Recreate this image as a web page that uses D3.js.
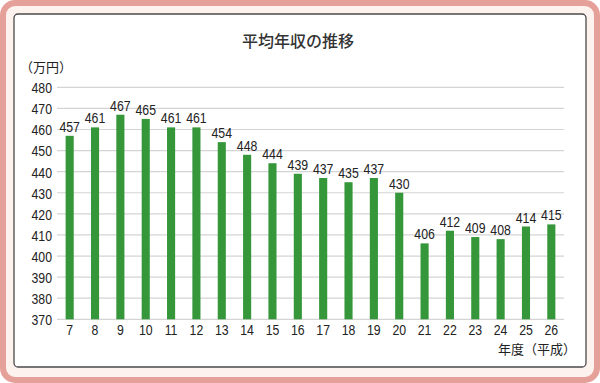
<!DOCTYPE html>
<html>
<head>
<meta charset="utf-8">
<script src="https://cdn.jsdelivr.net/npm/d3@7"></script>
<style>
  body { margin: 0; background: #fff; }
  text { font-family: "Liberation Sans", Arial, sans-serif; fill: #222; }
  .jp { font-family: "Noto Sans CJK JP", sans-serif; }
</style>
</head>
<body>
<script>
// data
var years = ["7","8","9","10","11","12","13","14","15","16","17","18","19","20","21","22","23","24","25","26"];
var incomes = [457,461,467,465,461,461,454,448,444,439,437,435,437,430,406,412,409,408,414,415];
var yTicks = [370,380,390,400,410,420,430,440,450,460,470,480];

var narrow = "scale(0.82,1)"; // les chiffres sont étroits dans l'original

var svg = d3.select("body").append("svg").attr("width", 600).attr("height", 383);

// cadre
svg.append("rect")
  .attr("x", 3).attr("y", 3).attr("width", 594).attr("height", 377)
  .attr("rx", 12)
  .style("fill", "#fdf2ee")
  .attr("stroke", "#e6a09a")
  .attr("stroke-width", 6);

svg.append("rect")
  .attr("x", 14).attr("y", 14).attr("width", 572).attr("height", 353)
  .attr("rx", 4)
  .style("fill", "#fff")
  .attr("stroke", "#4a4a4a")
  .attr("stroke-width", 1.3);

// échelles
var x = d3.scaleBand().domain(years).range([57, 564]).paddingInner(0.68).paddingOuter(0.34);
var y = d3.scaleLinear().domain([370, 480]).range([319.3, 87.3]);

// grille
svg.append("g").selectAll("line").data(yTicks).enter().append("line")
  .attr("x1", 57).attr("x2", 564)
  .attr("y1", function(d) { return y(d); })
  .attr("y2", function(d) { return y(d); })
  .attr("stroke", "#d4d4d4")
  .attr("stroke-width", 1.2);

// axe y
var yAxis = svg.append("g").attr("transform", "translate(52,0)")
  .call(d3.axisLeft(y).tickValues(yTicks).tickSize(0).tickPadding(0));
yAxis.select(".domain").remove();
yAxis.selectAll("text")
  .style("font-size", "15px")
  .attr("dy", "0.36em")
  .attr("transform", narrow);

// axe x
var xAxis = svg.append("g").attr("transform", "translate(0,321)")
  .call(d3.axisBottom(x).tickSize(0).tickPadding(0));
xAxis.select(".domain").remove();
xAxis.selectAll("text")
  .style("font-size", "15px")
  .attr("dy", "0.95em")
  .attr("transform", narrow);

// barres
svg.append("g").selectAll("rect").data(incomes).enter().append("rect")
  .attr("x", function(d, i) { return x(years[i]); })
  .attr("y", function(d) { return y(d); })
  .attr("width", x.bandwidth())
  .attr("height", function(d) { return y(370) - y(d); })
  .style("fill", "#35973a");

// valeurs
svg.append("g").selectAll("text").data(incomes).enter().append("text")
  .attr("transform", function(d, i) {
    return "translate(" + (x(years[i]) + x.bandwidth() / 2) + "," + (y(d) - 4) + ") " + narrow;
  })
  .style("text-anchor", "middle")
  .style("font-size", "15px")
  .text(function(d) { return d; });

// titre et unités
svg.append("text").attr("class", "jp")
  .attr("x", 298).attr("y", 47)
  .style("text-anchor", "middle")
  .style("font-size", "16px")
  .style("font-weight", "500")
  .style("fill", "#333")
  .text("平均年収の推移");

svg.append("text").attr("class", "jp")
  .attr("x", 20).attr("y", 72)
  .style("font-size", "13px")
  .text("（万円）");

svg.append("text").attr("class", "jp")
  .attr("x", 576).attr("y", 354)
  .style("text-anchor", "end")
  .style("font-size", "13px")
  .text("年度（平成）");
</script>
</body>
</html>
